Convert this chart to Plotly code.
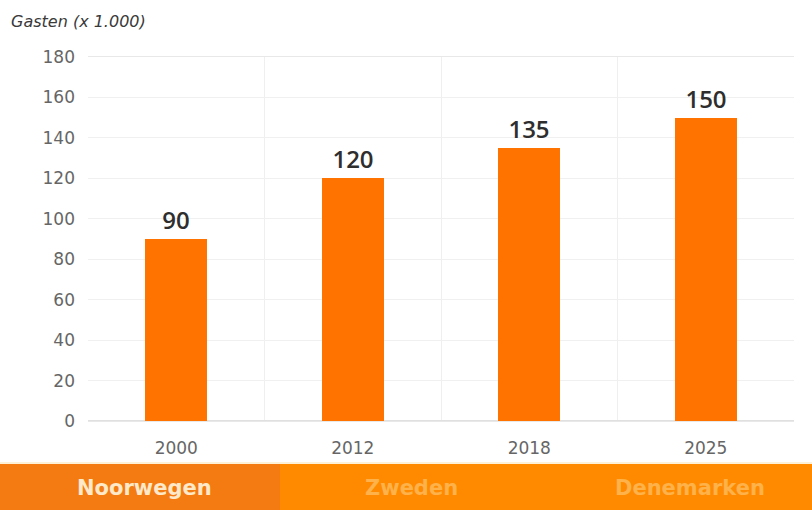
import plotly.graph_objects as go

years = ["2000", "2012", "2018", "2025"]
guests = [90, 120, 135, 150]
y_ticks = [0, 20, 40, 60, 80, 100, 120, 140, 160, 180]
tabs = ["Noorwegen", "Zweden", "Denemarken"]
tab_colors = ["#F47A12", "#FF8A00", "#FF8A00"]
tab_text_colors = ["#FFE9C8", "#FFB24A", "#FFB24A"]

W, H = 812, 510
L, R, T, B = 88, 794, 57, 421
pw, ph = R - L, B - T

def px_x(x):
    return (x - L) / pw

def px_y(y):
    return (B - y) / ph

xs = list(range(len(years)))

fig = go.Figure()
fig.add_trace(go.Bar(
    x=xs, y=guests, width=0.35,
    marker=dict(color="#FF7300", line=dict(width=0)),
    text=[str(v) for v in guests], textposition="outside",
    textfont=dict(size=24, color="#2E2E2E", family="Open Sans", weight=600),
    cliponaxis=False, hoverinfo="skip",
))

tab_edges = [0, 280, 540, 812]
shapes = []
annotations = []
for i, name in enumerate(tabs):
    shapes.append(dict(type="rect", xref="paper", yref="paper",
                       x0=px_x(tab_edges[i]), x1=px_x(tab_edges[i + 1]),
                       y0=px_y(511), y1=px_y(464),
                       fillcolor=tab_colors[i], line=dict(width=0), layer="below"))
    annotations.append(dict(xref="paper", yref="paper",
                            x=px_x([144, 411, 690][i]),
                            y=px_y(488), text=name, showarrow=False,
                            font=dict(size=21, color=tab_text_colors[i], family="DejaVu Sans", weight="bold"),
                            xanchor="center", yanchor="middle"))

shapes.append(dict(type="line", xref="paper", yref="paper",
                   x0=px_x(0), x1=px_x(812), y0=px_y(463), y1=px_y(463),
                   line=dict(color="#FBE3B0", width=1)))

annotations.append(dict(xref="paper", yref="paper", x=px_x(9), y=px_y(22),
                        text="<i>Gasten (x 1.000)</i>", showarrow=False,
                        xanchor="left", yanchor="middle",
                        font=dict(size=16, color="#3A3A3A", family="DejaVu Sans")))

fig.update_layout(
    width=W, height=H,
    margin=dict(l=L, r=W - R, t=T, b=H - B, pad=0),
    paper_bgcolor="white", plot_bgcolor="white",
    showlegend=False, bargap=0,
    shapes=shapes, annotations=annotations,
    xaxis=dict(
        range=[-0.5, len(years) - 0.5],
        tickvals=xs, ticktext=years, showgrid=False,
        tickfont=dict(size=17, color="#666666", family="DejaVu Sans"),
        showline=True, linecolor="#E8E8E8", linewidth=1, mirror=True,
        ticks="", zeroline=False, ticklabelstandoff=12,
        minor=dict(tickvals=[i + 0.5 for i in xs[:-1]], showgrid=True, gridcolor="#EFEFEF", gridwidth=1),
    ),
    yaxis=dict(
        range=[0, 180], tickvals=y_ticks,
        tickfont=dict(size=17, color="#666666", family="DejaVu Sans"),
        showgrid=True, gridcolor="#F0F0F0", gridwidth=1,
        zeroline=True, zerolinecolor="#E0E0E0",
        showline=False, ticks="", ticklabelstandoff=12,
    ),
)

fig.write_html("out.html", config={"displayModeBar": False},
               post_script="document.body.style.margin='0';document.body.style.overflow='hidden';")
